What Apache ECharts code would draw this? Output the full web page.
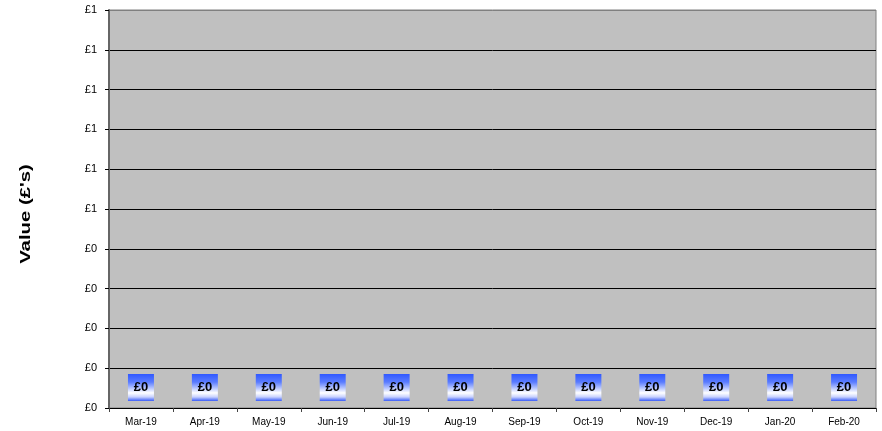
<!DOCTYPE html>
<html><head><meta charset="utf-8">
<script src="https://cdn.jsdelivr.net/npm/echarts@6/dist/echarts.min.js"></script>
<style>html,body{margin:0;padding:0;background:#fff}#c{width:882px;height:431px}</style>
</head><body><div id="c"></div>
<script>
var categories = ['Mar-19','Apr-19','May-19','Jun-19','Jul-19','Aug-19','Sep-19','Oct-19','Nov-19','Dec-19','Jan-20','Feb-20'];
var values = [0,0,0,0,0,0,0,0,0,0,0,0];
var yMin = 0, yMax = 1, yStep = 0.1;
var yName = "Value (£'s)";

var chart = echarts.init(document.getElementById('c'));
var grad = new echarts.graphic.LinearGradient(0,0,0,1,[
  {offset:0,color:'#3058ff'},{offset:0.3,color:'#5a7cff'},{offset:0.7,color:'#ffffff'},{offset:0.85,color:'#c8d2ff'},{offset:1,color:'#3a5cf8'}]);
var splitColors = [];
for (var i=0;i<10;i++) splitColors.push('#000');
splitColors.push('#808080');
chart.setOption({
  animation:false,
  grid:{left:109,right:6,top:10,bottom:23,show:true,backgroundColor:'#c0c0c0',borderColor:'#808080',borderWidth:1},
  graphic:[{type:'text',x:26,y:214,rotation:Math.PI/2,scaleX:1.45,
    style:{text:yName,fontFamily:'Liberation Sans',fontSize:14,fontWeight:'bold',fill:'#000',align:'center',verticalAlign:'middle'}}],
  xAxis:{type:'category',data:categories,
    axisLine:{lineStyle:{color:'#000',width:1}},
    axisTick:{show:true,length:4,lineStyle:{color:'#444'}},
    axisLabel:{fontFamily:'Liberation Sans',fontSize:10,color:'#000',margin:9}},
  yAxis:{type:'value',min:yMin,max:yMax,interval:yStep,
    axisLine:{show:true,lineStyle:{color:'#666',width:2}},
    axisTick:{show:true,length:4,lineStyle:{color:'#000'}},
    splitLine:{show:true,lineStyle:{color:splitColors,width:1}},
    axisLabel:{fontFamily:'Liberation Sans',fontSize:11,color:'#000',margin:12,
      formatter:function(v){return '£'+Math.round(v);}}},
  series:[{type:'bar',data:values,barWidth:'40%',itemStyle:{color:'rgba(0,0,0,0)'},
    label:{show:true,position:'top',distance:7,
      formatter:function(p){return '£'+Math.round(p.value);},
      fontFamily:'Liberation Sans',fontSize:13,fontWeight:'bold',color:'#000',
      backgroundColor:grad,padding:[6,4,6,4],width:18,height:15,lineHeight:15,align:'center'}}]
});
</script></body></html>
